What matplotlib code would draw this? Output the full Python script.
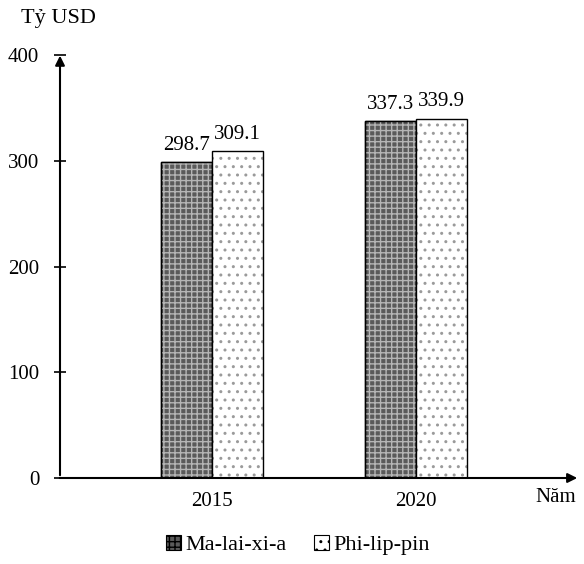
import matplotlib.pyplot as plt
import matplotlib.patches as mpatches
import numpy as np

plt.rcParams['font.family'] = ['Liberation Serif', 'DejaVu Serif']
plt.rcParams['hatch.linewidth'] = 1.0

# Du lieu
years = ['2015', '2020']
malaysia = [298.7, 337.3]
philippines = [309.1, 339.9]
series_names = ['Ma-lai-xi-a', 'Phi-lip-pin']
y_ticks = [0, 100, 200, 300, 400]

x = np.arange(len(years))
w = 0.25

fig = plt.figure(figsize=(5.84, 5.64), dpi=100)
ax = fig.add_axes([60 / 584, 86 / 564, 520 / 584, 423 / 564])

# Ma-lai-xi-a: nen xam dam, luoi xam nhat
ax.bar(x - w / 2, malaysia, w, color='#5a5a5a', edgecolor='black', linewidth=1.0)
ax.bar(x - w / 2, malaysia, w, color='none', edgecolor='#b5b5b5', hatch='+++', linewidth=0)
ax.bar(x - w / 2, malaysia, w, color='none', edgecolor='black', linewidth=1.0)
# Phi-lip-pin: nen trang, cham xam
ax.bar(x + w / 2, philippines, w, color='white', edgecolor='#9a9a9a', hatch='..', linewidth=0)
ax.bar(x + w / 2, philippines, w, color='none', edgecolor='black', linewidth=1.0)

for xi, v in zip(x - w / 2, malaysia):
    ax.text(xi, v + 7, f'{v}', ha='center', va='bottom', fontsize=15)
for xi, v in zip(x + w / 2, philippines):
    ax.text(xi, v + 7, f'{v}', ha='center', va='bottom', fontsize=15)

ax.set_xlim(-0.745, 1.804)
ax.set_ylim(0, 400)
ax.set_yticks(y_ticks)
ax.set_yticklabels([str(t) for t in y_ticks], fontsize=15)
ax.tick_params(axis='y', direction='inout', length=8, width=1.2, pad=11)
ax.set_xticks(x)
ax.set_xticklabels(years, fontsize=15)
ax.tick_params(axis='x', length=0, pad=10)

for s in ['top', 'right', 'left', 'bottom']:
    ax.spines[s].set_visible(False)

# truc co mui ten
ax.annotate('', xy=(0, 1.005), xytext=(0, 0), xycoords='axes fraction',
            arrowprops=dict(arrowstyle='-|>', color='black', lw=1.5, mutation_scale=14))
ax.annotate('', xy=(1.0, 0), xytext=(-0.006, 0), xycoords='axes fraction',
            arrowprops=dict(arrowstyle='-|>', color='black', lw=1.5, mutation_scale=14))

fig.text(58 / 584, 1 - 18 / 564, 'Tỷ USD', ha='center', va='center', fontsize=16)
fig.text(556 / 584, 1 - 498 / 564, 'Năm', ha='center', va='center', fontsize=15)

h1 = mpatches.Patch(facecolor='#5a5a5a', edgecolor='black', hatch='+++', linewidth=0.8)
h2 = mpatches.Patch(facecolor='white', edgecolor='black', hatch='..', linewidth=0.8)
fig.legend([h1, h2], series_names, loc='center', bbox_to_anchor=(298 / 584, 1 - 545 / 564),
           ncol=2, frameon=False, fontsize=16, handlelength=0.7, handleheight=0.7,
           handletextpad=0.2, columnspacing=1.2)

plt.savefig('out.png', dpi=100)
